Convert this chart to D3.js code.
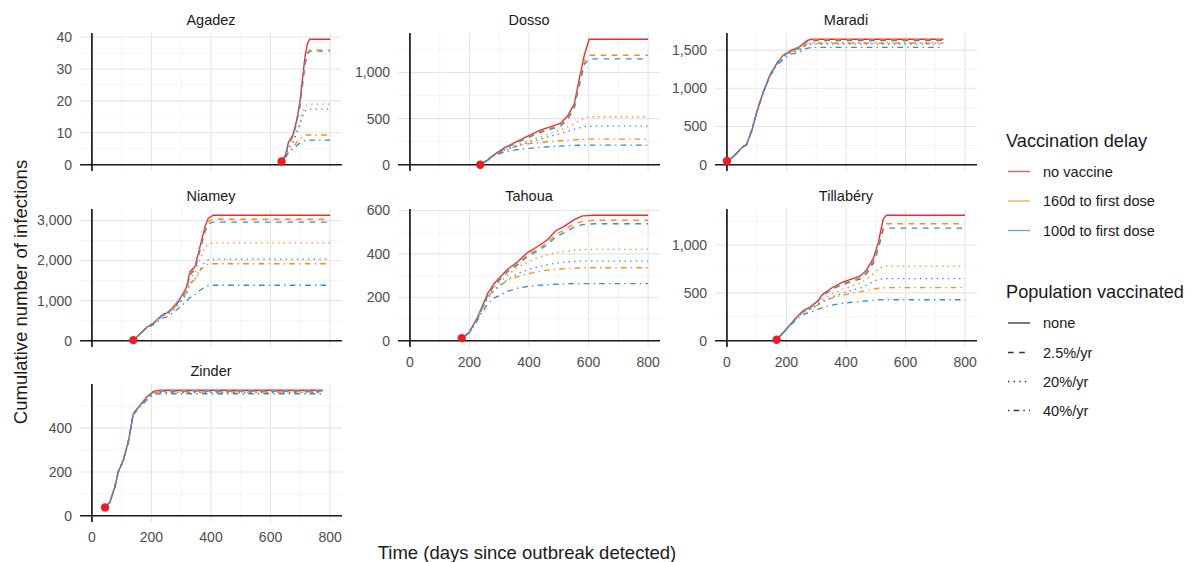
<!DOCTYPE html>
<html>
<head>
<meta charset="utf-8">
<script src="https://cdn.jsdelivr.net/npm/d3@7"></script>
<style>
  body { margin: 0; background: #fff; }
  svg { display: block; font-family: "Liberation Sans", Arial, Helvetica, sans-serif; }
</style>
</head>
<body>
<svg id="chart" width="1193" height="562"></svg>
<script>
// ---------------- DATA ----------------
const regions = ["Agadez", "Dosso", "Maradi", "Niamey", "Tahoua", "Tillabéry", "Zinder"];
// series order: no vaccine | 160d (2.5%, 20%, 40%) | 100d (2.5%, 20%, 40%)
const seriesDelay = ["no vaccine", "160d to first dose", "160d to first dose", "160d to first dose",
                     "100d to first dose", "100d to first dose", "100d to first dose"];
const seriesCoverage = ["none", "2.5%/yr", "20%/yr", "40%/yr", "2.5%/yr", "20%/yr", "40%/yr"];
const delayLabels = ["no vaccine", "160d to first dose", "100d to first dose"];
const coverageLabels = ["none", "2.5%/yr", "20%/yr", "40%/yr"];

const xTicks = [0, 200, 400, 600, 800];
const xMinorTicks = [100, 300, 500, 700];
const yTicksAgadez = [0, 10, 20, 30, 40];
const yTicksDosso = [0, 500, 1000];
const yTicksMaradi = [0, 500, 1000, 1500];
const yTicksNiamey = [0, 1000, 2000, 3000];
const yTicksTahoua = [0, 200, 400, 600];
const yTicksTillabery = [0, 500, 1000];
const yTicksZinder = [0, 200, 400];

const agadezDays = [637, 650, 660, 676, 688, 699, 708, 716, 724, 732, 800];
const agadezNone = [1, 3, 7, 9.5, 14, 20, 27.5, 34, 38, 39.3, 39.3];
const agadezO25 = [1, 3, 6.5, 9, 13.5, 19, 26, 32, 35, 36, 36];
const agadezO20 = [1, 2.5, 5.5, 7.5, 10.5, 13.5, 16.5, 18.2, 18.8, 19, 19];
const agadezO40 = [1, 2.3, 4, 5.5, 7, 8.2, 8.9, 9.2, 9.3, 9.3, 9.3];
const agadezB25 = [1, 3, 6.5, 9, 13.5, 18.5, 25.5, 31.5, 34.8, 35.6, 35.6];
const agadezB20 = [1, 2.5, 5, 7, 10, 12.5, 15.2, 16.8, 17.3, 17.4, 17.4];
const agadezB40 = [1, 2.2, 3.8, 5, 6, 6.8, 7.3, 7.6, 7.7, 7.7, 7.7];

const dossoDays = [236, 260, 283, 317, 362, 401, 440, 474, 507, 530, 552, 569, 586, 602, 800];
const dossoNone = [0, 50, 110, 183, 256, 319, 377, 414, 450, 531, 659, 934, 1190, 1360, 1360];
const dossoO25 = [0, 50, 108, 178, 248, 308, 362, 398, 432, 508, 630, 890, 1130, 1187, 1187];
const dossoO20 = [0, 50, 105, 165, 218, 262, 305, 340, 380, 410, 445, 480, 505, 520, 520];
const dossoO40 = [0, 48, 100, 155, 205, 228, 242, 252, 260, 266, 270, 274, 277, 278, 278];
const dossoB25 = [0, 50, 107, 175, 243, 300, 352, 386, 420, 493, 610, 860, 1090, 1147, 1147];
const dossoB20 = [0, 50, 103, 158, 205, 243, 280, 310, 340, 365, 385, 400, 412, 418, 418];
const dossoB40 = [0, 47, 95, 140, 165, 178, 188, 196, 202, 206, 209, 211, 212, 212, 212];

const maradiDays = [0, 16, 32, 49, 66, 83, 100, 122, 144, 167, 189, 217, 245, 268, 284, 727];
const maradiNone = [50, 88, 146, 220, 265, 441, 684, 949, 1169, 1324, 1434, 1500, 1545, 1624, 1642, 1642];
const maradiO25 = [50, 88, 146, 220, 265, 441, 684, 949, 1169, 1324, 1434, 1498, 1540, 1615, 1632, 1632];
const maradiO20 = [50, 88, 146, 220, 265, 441, 684, 949, 1169, 1322, 1432, 1488, 1525, 1588, 1600, 1600];
const maradiO40 = [50, 88, 146, 220, 265, 441, 684, 949, 1168, 1320, 1428, 1482, 1515, 1578, 1590, 1590];
const maradiB25 = [50, 88, 146, 220, 265, 441, 684, 949, 1169, 1322, 1428, 1490, 1532, 1608, 1625, 1625];
const maradiB20 = [50, 88, 146, 220, 265, 441, 684, 949, 1165, 1312, 1415, 1468, 1505, 1565, 1578, 1578];
const maradiB40 = [50, 88, 146, 220, 265, 441, 684, 945, 1155, 1295, 1380, 1448, 1478, 1522, 1536, 1536];

const niameyDays = [139, 161, 184, 206, 228, 240, 251, 273, 296, 318, 329, 346, 363, 380, 391, 408, 800];
const niameyNone = [15, 168, 335, 436, 587, 670, 687, 838, 1048, 1341, 1718, 1844, 2346, 2849, 3059, 3130, 3130];
const niameyO25 = [15, 168, 335, 436, 587, 665, 680, 830, 1035, 1320, 1680, 1810, 2300, 2780, 2980, 3030, 3030];
const niameyO20 = [15, 168, 335, 436, 580, 655, 672, 815, 1010, 1270, 1560, 1680, 2050, 2330, 2420, 2440, 2440];
const niameyO40 = [15, 168, 335, 436, 575, 645, 660, 795, 975, 1200, 1430, 1530, 1750, 1870, 1910, 1920, 1920];
const niameyB25 = [15, 165, 330, 430, 575, 650, 670, 815, 1015, 1290, 1640, 1770, 2250, 2720, 2920, 2960, 2960];
const niameyB20 = [15, 165, 325, 420, 555, 625, 640, 770, 950, 1170, 1420, 1520, 1780, 1960, 2020, 2036, 2036];
const niameyB40 = [15, 160, 315, 400, 510, 570, 590, 700, 840, 980, 1080, 1150, 1260, 1340, 1375, 1383, 1383];

const tahouaDays = [174, 199, 227, 261, 283, 328, 362, 395, 429, 462, 490, 518, 552, 580, 619, 800];
const tahouaNone = [12, 39, 108, 217, 264, 329, 364, 406, 434, 465, 507, 527, 558, 575, 578, 578];
const tahouaO25 = [12, 39, 105, 212, 258, 322, 355, 395, 422, 452, 490, 510, 538, 550, 555, 555];
const tahouaO20 = [12, 38, 103, 205, 245, 302, 338, 362, 382, 396, 405, 412, 417, 420, 421, 421];
const tahouaO40 = [12, 38, 102, 200, 236, 278, 296, 308, 318, 325, 329, 332, 334, 336, 336, 336];
const tahouaB25 = [12, 38, 104, 208, 254, 318, 350, 388, 414, 442, 478, 498, 524, 535, 539, 539];
const tahouaB20 = [12, 37, 100, 195, 232, 282, 310, 326, 340, 350, 357, 362, 365, 367, 367, 367];
const tahouaB40 = [12, 36, 95, 170, 196, 228, 242, 250, 255, 258, 260, 262, 263, 263, 263, 263];

const tillaberyDays = [167, 200, 234, 256, 279, 301, 324, 357, 391, 424, 447, 469, 492, 508, 525, 536, 800];
const tillaberyNone = [10, 123, 246, 316, 351, 404, 491, 561, 614, 649, 674, 737, 860, 1018, 1270, 1310, 1310];
const tillaberyO25 = [10, 122, 244, 313, 347, 398, 482, 550, 600, 634, 657, 715, 830, 980, 1200, 1221, 1221];
const tillaberyO20 = [10, 121, 240, 305, 335, 378, 440, 495, 540, 575, 600, 640, 700, 745, 775, 779, 779];
const tillaberyO40 = [10, 121, 238, 300, 328, 365, 410, 450, 478, 498, 510, 525, 540, 548, 553, 554, 554];
const tillaberyB25 = [10, 122, 243, 311, 344, 394, 476, 542, 590, 622, 644, 700, 810, 955, 1160, 1176, 1176];
const tillaberyB20 = [10, 120, 236, 298, 325, 362, 415, 460, 500, 530, 550, 580, 620, 640, 648, 649, 649];
const tillaberyB40 = [10, 118, 225, 275, 295, 320, 350, 375, 392, 404, 410, 416, 422, 426, 428, 428, 428];

const zinderDays = [44, 60, 77, 88, 105, 122, 139, 161, 184, 206, 228, 775];
const zinderNone = [38, 61, 130, 199, 252, 336, 466, 504, 542, 568, 573, 573];
const zinderO25 = [38, 61, 130, 199, 252, 336, 466, 504, 541, 566, 571, 571];
const zinderO20 = [38, 61, 130, 199, 252, 336, 466, 503, 539, 562, 567, 567];
const zinderO40 = [38, 61, 130, 199, 252, 336, 466, 502, 537, 560, 565, 565];
const zinderB25 = [38, 61, 130, 199, 252, 336, 466, 503, 540, 564, 569, 569];
const zinderB20 = [38, 61, 130, 199, 252, 336, 465, 501, 535, 558, 563, 563];
const zinderB40 = [38, 61, 130, 199, 252, 335, 462, 496, 528, 552, 557, 557];

// assemble per-region tables
const regionDays = [agadezDays, dossoDays, maradiDays, niameyDays, tahouaDays, tillaberyDays, zinderDays];
const regionSeries = [
  [agadezNone, agadezO25, agadezO20, agadezO40, agadezB25, agadezB20, agadezB40],
  [dossoNone, dossoO25, dossoO20, dossoO40, dossoB25, dossoB20, dossoB40],
  [maradiNone, maradiO25, maradiO20, maradiO40, maradiB25, maradiB20, maradiB40],
  [niameyNone, niameyO25, niameyO20, niameyO40, niameyB25, niameyB20, niameyB40],
  [tahouaNone, tahouaO25, tahouaO20, tahouaO40, tahouaB25, tahouaB20, tahouaB40],
  [tillaberyNone, tillaberyO25, tillaberyO20, tillaberyO40, tillaberyB25, tillaberyB20, tillaberyB40],
  [zinderNone, zinderO25, zinderO20, zinderO40, zinderB25, zinderB20, zinderB40]
];
const regionYTicks = [yTicksAgadez, yTicksDosso, yTicksMaradi, yTicksNiamey, yTicksTahoua, yTicksTillabery, yTicksZinder];

// ---------------- STYLE / LAYOUT ----------------
const delayColor = d3.scaleOrdinal().domain(delayLabels).range(["#EE2A2F", "#FF8A1C", "#3B8BCB"]);
const dashOf = d3.scaleOrdinal().domain(coverageLabels).range([null, "5.6,5.6", "1.4,4.2", "1.4,4.2,5.6,4.2"]);

const colX = [80, 398, 715];
const rowY = [33, 209, 384];
const PW = 262, PH = 138;
const panelRow = [0, 0, 0, 1, 1, 1, 2];
const panelCol = [0, 1, 2, 0, 1, 2, 0];
const showX = [false, false, false, false, true, true, true];

const svg = d3.select("#chart");
const fmt = d3.format(",");
const textGray = "#4d4d4d";
const textDark = "#1a1a1a";

const x = d3.scaleLinear().domain([-40, 840]).range([0, PW]);

regions.forEach((name, i) => {
  const g = svg.append("g").attr("transform", `translate(${colX[panelCol[i]]},${rowY[panelRow[i]]})`);
  const series = regionSeries[i];
  const days = regionDays[i];
  const ymax = d3.max(series, s => d3.max(s));
  const y = d3.scaleLinear().domain([-0.05 * ymax, ymax * 1.05]).range([PH, 0]);
  const yT = regionYTicks[i];
  const step = yT[1] - yT[0];
  const yMinor = [];
  for (let v = yT[0] - step / 2; v <= ymax * 1.05; v += step) {
    if (v >= -0.05 * ymax) yMinor.push(v);
  }

  // grid
  g.selectAll(".gxm").data(xMinorTicks).join("line")
    .attr("x1", d => x(d)).attr("x2", d => x(d)).attr("y1", 0).attr("y2", PH)
    .attr("stroke", "#eeeeee").attr("stroke-width", 0.6);
  g.selectAll(".gym").data(yMinor).join("line")
    .attr("x1", 0).attr("x2", PW).attr("y1", d => y(d)).attr("y2", d => y(d))
    .attr("stroke", "#eeeeee").attr("stroke-width", 0.6);
  g.selectAll(".gx").data(xTicks).join("line")
    .attr("x1", d => x(d)).attr("x2", d => x(d)).attr("y1", 0).attr("y2", PH)
    .attr("stroke", "#e5e5e5").attr("stroke-width", 1.1);
  g.selectAll(".gy").data(yT).join("line")
    .attr("x1", 0).attr("x2", PW).attr("y1", d => y(d)).attr("y2", d => y(d))
    .attr("stroke", "#e5e5e5").attr("stroke-width", 1.1);

  // reference lines at 0
  g.append("line").attr("x1", 0).attr("x2", PW).attr("y1", y(0)).attr("y2", y(0))
    .attr("stroke", "#1a1a1a").attr("stroke-width", 1.7);
  g.append("line").attr("x1", x(0)).attr("x2", x(0)).attr("y1", 0).attr("y2", PH)
    .attr("stroke", "#1a1a1a").attr("stroke-width", 1.7);

  // lines
  const line = d3.line().x(d => x(d[0])).y(d => y(d[1]));
  series.forEach((vals, k) => {
    const pts = days.map((d, j) => [d, vals[j]]);
    g.append("path").datum(pts)
      .attr("d", line)
      .attr("fill", "none")
      .attr("stroke", delayColor(seriesDelay[k]))
      .attr("stroke-width", 1.35)
      .attr("stroke-dasharray", dashOf(seriesCoverage[k]));
  });

  // start point
  g.append("circle").attr("cx", x(days[0])).attr("cy", y(series[0][0])).attr("r", 4.2)
    .attr("fill", "#EE1C25");

  // y tick labels
  g.selectAll(".yl").data(yT).join("text")
    .attr("x", -8).attr("y", d => y(d)).attr("dy", "0.35em")
    .attr("text-anchor", "end").attr("font-size", 14).attr("fill", textGray)
    .text(d => fmt(d));

  // x tick labels
  if (showX[i]) {
    g.selectAll(".xl").data(xTicks).join("text")
      .attr("x", d => x(d)).attr("y", PH + 20)
      .attr("text-anchor", "middle").attr("font-size", 14).attr("fill", textGray)
      .text(d => d);
  }

  // strip title
  g.append("text").attr("x", PW / 2).attr("y", -8)
    .attr("text-anchor", "middle").attr("font-size", 14.5).attr("fill", textDark)
    .text(name);
});

// axis titles
svg.append("text").attr("x", 527).attr("y", 559)
  .attr("text-anchor", "middle").attr("font-size", 18.5).attr("fill", textDark)
  .text("Time (days since outbreak detected)");
svg.append("text").attr("transform", "translate(27,292) rotate(-90)")
  .attr("text-anchor", "middle").attr("font-size", 18.5).attr("fill", textDark)
  .text("Cumulative number of infections");

// legend
const lg = svg.append("g");
lg.append("text").attr("x", 1006).attr("y", 147).attr("font-size", 18.2).attr("fill", textDark).text("Vaccination delay");
const delayY = [171.5, 201, 230.5];
delayLabels.forEach((lab, k) => {
  lg.append("line").attr("x1", 1008).attr("x2", 1030).attr("y1", delayY[k]).attr("y2", delayY[k])
    .attr("stroke", delayColor(lab)).attr("stroke-width", 1.3).attr("opacity", 0.8);
  lg.append("text").attr("x", 1043).attr("y", delayY[k]).attr("dy", "0.35em")
    .attr("font-size", 14.6).attr("fill", textDark).text(lab);
});
lg.append("text").attr("x", 1006).attr("y", 298).attr("font-size", 18.2).attr("fill", textDark).text("Population vaccinated");
const covY = [323, 352.5, 381.5, 410.5];
coverageLabels.forEach((lab, k) => {
  lg.append("line").attr("x1", 1008).attr("x2", 1030).attr("y1", covY[k]).attr("y2", covY[k])
    .attr("stroke", "#333").attr("stroke-width", 1.3).attr("stroke-dasharray", dashOf(lab));
  lg.append("text").attr("x", 1043).attr("y", covY[k]).attr("dy", "0.35em")
    .attr("font-size", 14.6).attr("fill", textDark).text(lab);
});
</script>
</body>
</html>
